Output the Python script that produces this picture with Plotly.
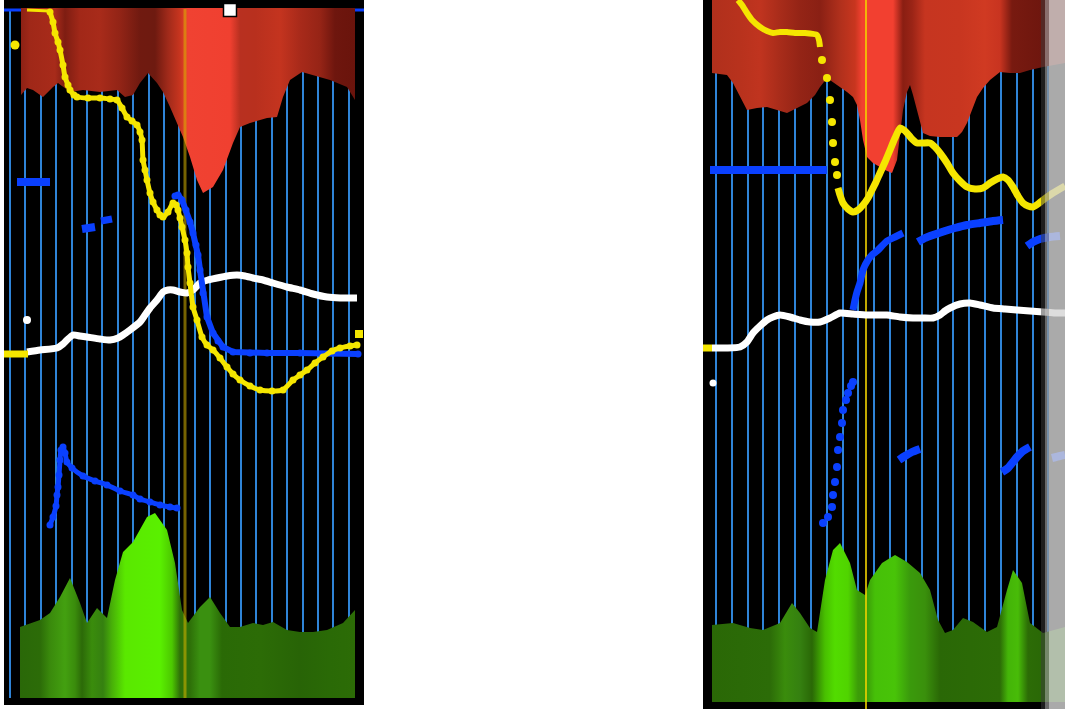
import plotly.graph_objects as go

# ---------------- LEFT PANEL DATA ----------------
red_left_x = [21, 27, 33, 43, 53, 58, 70, 83, 100, 117, 125, 133, 140, 148, 157, 163, 170, 177, 183, 190, 197, 203, 213, 223, 233, 240, 250, 267, 277, 283, 290, 302, 313, 330, 347, 355]
red_left_y = [95, 88, 90, 97, 87, 83, 92, 90, 92, 90, 97, 95, 83, 73, 83, 92, 107, 123, 137, 157, 180, 193, 187, 170, 143, 127, 123, 118, 117, 97, 80, 72, 75, 80, 87, 100]
red_left_top = 8
red_left_stop_x = [20, 30, 55, 65, 80, 100, 120, 140, 155, 168, 180, 188, 230, 240, 255, 280, 300, 320, 335, 355]
red_left_stop_c = ['#8a2014', '#a02818', '#a82b1a', '#7e1d12', '#a22818', '#a82b1a', '#922416', '#701a10', '#6e1a10', '#a02a1a',
                   '#c8351f', '#f04232', '#f04030', '#b83020', '#b8301e', '#c4341f', '#a82a1a', '#962416', '#6e160e', '#6a140c']

green_left_x = [20, 40, 50, 60, 70, 80, 87, 97, 107, 115, 123, 133, 147, 155, 167, 175, 182, 188, 200, 210, 220, 230, 240, 253, 263, 273, 287, 300, 313, 327, 343, 355]
green_left_y = [627, 620, 613, 597, 578, 603, 623, 608, 618, 580, 552, 542, 517, 513, 530, 563, 610, 623, 607, 597, 613, 627, 627, 623, 625, 622, 630, 632, 632, 630, 623, 610]
green_left_bottom = 698
green_left_stop_x = [20, 40, 50, 65, 75, 82, 92, 103, 112, 125, 160, 172, 180, 190, 200, 210, 222, 260, 300, 330, 355]
green_left_stop_c = ['#2a6808', '#2c6c08', '#3a8a0c', '#43a010', '#3a8c0c', '#2c6a08', '#3a8c0c', '#358010', '#48b008', '#5ae800',
                     '#5af000', '#4cc800', '#2f7008', '#2e7008', '#3a9010', '#3a9010', '#2a6a06', '#2c6c06', '#286406', '#2a6a06', '#2c6c06']

yellow_left_top_x = [27, 50]
yellow_left_top_y = [10, 11]
yellow_left_x = [50, 53, 55, 58, 60, 63, 65, 68, 70, 74, 77, 88, 100, 110, 117, 122, 127, 132, 137, 140, 142, 143, 145, 147, 150, 153, 157, 160,
                 163, 168, 173, 176, 178, 180, 182, 185, 187, 188, 190, 193, 197, 202, 207, 213, 220, 227, 233, 240, 250, 260, 272, 283,
                 293, 300, 307, 315, 323, 332, 340, 350, 357]
yellow_left_y = [12, 22, 33, 42, 50, 65, 77, 85, 90, 95, 97, 98, 98, 99, 100, 108, 117, 121, 125, 132, 140, 160, 170, 180, 193, 202, 210, 215,
                 217, 212, 203, 205, 210, 218, 227, 240, 253, 267, 283, 307, 320, 337, 345, 350, 358, 367, 374, 380, 386, 390, 391, 390,
                 380, 375, 370, 363, 357, 351, 348, 346, 345]
yellow_left_stub_x = [4, 28]
yellow_left_stub_y = [354, 354]
yellow_left_dot = (15, 45)
yellow_left_end = (359, 334)

white_left_x = [27, 40, 57, 63, 67, 73, 80, 87, 100, 110, 118, 123, 130, 140, 145, 150, 157, 163, 168, 173, 180, 187, 193, 200, 208, 217, 227,
                237, 245, 253, 263, 273, 287, 300, 313, 327, 340, 357]
white_left_y = [352, 350, 348, 344, 340, 335, 336, 337, 339, 340, 338, 335, 330, 322, 315, 308, 300, 292, 290, 290, 292, 293, 290, 283, 280,
                278, 276, 275, 276, 278, 280, 283, 287, 290, 294, 297, 298, 298]
white_left_dot = (27, 320)

blue_left_top_x = [4, 364]
blue_left_top_y = [10, 10]
blue_left_dash_x = [17, 50]
blue_left_dash_y = [182, 182]
blue_left_dash2_x = [82, 95]
blue_left_dash2_y = [229, 227]
blue_left_dash3_x = [101, 112]
blue_left_dash3_y = [221, 219]
blue_left_fall_x = [175, 178, 182, 186, 190, 193, 196, 198, 200, 203, 207, 213, 218, 223, 233, 250, 267, 300, 333, 358]
blue_left_fall_y = [196, 195, 200, 210, 222, 233, 245, 255, 270, 293, 317, 333, 341, 347, 352, 353, 353, 353, 353, 354]
blue_left_low_x = [50, 53, 56, 57, 58, 59, 60, 61, 63, 65, 67, 72, 83, 95, 107, 120, 133, 140, 150, 160, 170, 177]
blue_left_low_y = [525, 517, 506, 495, 487, 475, 460, 450, 447, 453, 462, 468, 476, 481, 485, 491, 495, 499, 502, 505, 507, 508]

cursor_left_x = 185
marker_left = (230, 10)

# ---------------- RIGHT PANEL DATA ----------------
red_right_x = [712, 720, 727, 733, 740, 747, 757, 767, 777, 787, 797, 807, 815, 820, 827, 833, 840, 847, 853, 857, 860, 863, 867, 873, 880, 885,
               892, 897, 900, 903, 907, 910, 913, 917, 920, 923, 930, 940, 950, 957, 962, 967, 972, 977, 983, 990, 1000, 1010, 1020, 1030,
               1043, 1055, 1065]
red_right_y = [73, 74, 75, 83, 97, 110, 108, 107, 110, 113, 108, 103, 95, 87, 78, 82, 87, 92, 97, 105, 120, 140, 157, 163, 167, 170,
               173, 160, 135, 110, 92, 85, 95, 110, 122, 133, 136, 137, 137, 137, 132, 123, 110, 97, 88, 80, 72, 73, 73, 70,
               67, 65, 63]
red_right_top = 0
red_right_stop_x = [712, 740, 760, 780, 800, 820, 840, 855, 862, 893, 903, 912, 925, 960, 985, 1000, 1012, 1043, 1065]
red_right_stop_c = ['#b0301c', '#b8321d', '#c0341f', '#a82c1a', '#942416', '#8a2014', '#b0301c', '#c8361f', '#f24030', '#f24030',
                    '#8a1e12', '#9a2416', '#c63520', '#c83620', '#d03a22', '#c83420', '#781a10', '#6e160e', '#6e160e']

green_right_x = [712, 733, 750, 763, 780, 792, 800, 810, 817, 825, 833, 840, 850, 857, 865, 870, 882, 895, 907, 920, 930, 938, 945, 953, 963,
                 973, 987, 997, 1007, 1013, 1022, 1030, 1043, 1053, 1065]
green_right_y = [625, 623, 628, 630, 623, 603, 613, 628, 632, 580, 550, 543, 563, 590, 595, 580, 563, 555, 562, 573, 590, 620, 633, 630, 618,
                 622, 632, 627, 590, 570, 583, 623, 633, 630, 627]
green_right_bottom = 702
green_right_stop_x = [712, 770, 785, 800, 812, 825, 835, 848, 858, 866, 875, 895, 910, 925, 940, 1000, 1008, 1018, 1028, 1043, 1065]
green_right_stop_c = ['#2a6806', '#2c6c08', '#3a8c0c', '#358010', '#2a6806', '#48c000', '#52dc00', '#50d400', '#3c9c08', '#3a9a08',
                      '#46c008', '#48c408', '#3a9a0c', '#3a900c', '#2a6806', '#2c6c06', '#44b408', '#48bc08', '#2c6c06', '#2a6806', '#2a6806']

yellow_right_a_x = [738, 742, 747, 752, 760, 767, 773, 780, 787, 795, 805, 817, 819, 820]
yellow_right_a_y = [0, 5, 13, 20, 27, 31, 33, 32, 32, 33, 33, 35, 40, 47]
yellow_right_dots_x = [822, 827, 830, 832, 833, 835, 837]
yellow_right_dots_y = [60, 78, 100, 122, 143, 162, 175]
yellow_right_b_x = [838, 840, 843, 848, 853, 858, 863, 868, 872, 876, 880, 885, 890, 895, 900, 904, 907, 912, 917, 923, 930, 935, 940, 947,
                    953, 960, 967, 975, 983, 990, 997, 1003, 1008, 1013, 1018, 1023, 1028, 1033, 1038, 1043, 1053, 1065]
yellow_right_b_y = [188, 195, 203, 209, 212, 210, 205, 198, 190, 182, 173, 162, 150, 138, 128, 130, 133, 139, 143, 143, 143, 147, 153, 163,
                    173, 181, 187, 189, 188, 183, 179, 177, 180, 187, 196, 203, 206, 207, 204, 200, 193, 186]
yellow_right_stub_x = [703, 712]
yellow_right_stub_y = [348, 348]

white_right_x = [712, 727, 740, 747, 753, 760, 767, 773, 780, 790, 800, 810, 820, 830, 840, 853, 867, 877, 887, 900, 913, 923, 933, 940, 945,
                 950, 960, 970, 980, 993, 1005, 1017, 1030, 1043, 1055, 1065]
white_right_y = [348, 348, 347, 342, 333, 326, 320, 317, 315, 317, 320, 322, 322, 318, 313, 314, 315, 315, 315, 317, 318, 318, 318, 315, 311,
                 308, 304, 303, 305, 308, 309, 310, 311, 312, 313, 313]
white_right_dot = (713, 383)

blue_right_h_x = [710, 827]
blue_right_h_y = [170, 170]
blue_right_rise_x = [853, 855, 857, 860, 863, 868, 872, 877, 887, 895, 903]
blue_right_rise_y = [310, 300, 292, 283, 270, 260, 255, 251, 241, 237, 233]
blue_right_seg2_x = [918, 925, 933, 945, 955, 967, 980, 993, 1003]
blue_right_seg2_y = [242, 238, 235, 231, 228, 225, 223, 221, 220]
blue_right_seg3_x = [1027, 1033, 1040, 1050, 1060]
blue_right_seg3_y = [246, 242, 239, 237, 236]
blue_right_dots_x = [823, 828, 832, 833, 835, 837, 838, 840, 842, 843, 846, 848, 851, 853]
blue_right_dots_y = [523, 517, 507, 495, 482, 467, 450, 437, 423, 410, 400, 393, 386, 382]
blue_right_s1_x = [899, 905, 912, 920]
blue_right_s1_y = [460, 456, 452, 449]
blue_right_s2_x = [1002, 1008, 1013, 1017, 1023, 1030]
blue_right_s2_y = [472, 468, 462, 457, 451, 447]
blue_right_s3_x = [1052, 1060, 1065]
blue_right_s3_y = [458, 456, 455]

cursor_right_x = 866

YELLOW = '#f5e600'
BLUE = '#0a40ff'
WHITE = '#ffffff'
GRID = '#2f84d8'


def scale(stops_x, stops_c):
    lo, hi = stops_x[0], stops_x[-1]
    return [[(x - lo) / (hi - lo), c] for x, c in zip(stops_x, stops_c)]


fig = go.Figure()


def add_fill(xs, ys, base, sx, sc, xa, ya):
    px = list(xs) + [xs[-1], xs[0]]
    py = list(ys) + [base, base]
    fig.add_trace(go.Scatter(x=px, y=py, mode='lines', fill='toself', line=dict(width=0),
                             fillgradient=dict(type='horizontal', colorscale=scale(sx, sc), start=sx[0], stop=sx[-1]),
                             xaxis=xa, yaxis=ya, hoverinfo='skip'))


def add_line(xs, ys, color, width, xa, ya, markers=False, msize=7, shape='spline'):
    fig.add_trace(go.Scatter(x=xs, y=ys, mode='lines+markers' if markers else 'lines',
                             line=dict(color=color, width=width, shape=shape, smoothing=0.5),
                             marker=dict(color=color, size=msize),
                             xaxis=xa, yaxis=ya, hoverinfo='skip'))


def add_dots(xs, ys, color, size, xa, ya, symbol='circle'):
    fig.add_trace(go.Scatter(x=xs, y=ys, mode='markers', marker=dict(color=color, size=size, symbol=symbol),
                             xaxis=xa, yaxis=ya, hoverinfo='skip'))


# ----- left panel -----
add_line(blue_left_top_x, blue_left_top_y, BLUE, 3, 'x', 'y', shape='linear')
add_fill(red_left_x, red_left_y, red_left_top, red_left_stop_x, red_left_stop_c, 'x', 'y')
add_fill(green_left_x, green_left_y, green_left_bottom, green_left_stop_x, green_left_stop_c, 'x', 'y')
fig.add_trace(go.Scatter(x=[cursor_left_x, cursor_left_x], y=[9, 698], mode='lines',
                         line=dict(color='rgba(215,178,0,0.55)', width=3), xaxis='x', yaxis='y', hoverinfo='skip'))
add_line(white_left_x, white_left_y, WHITE, 7, 'x', 'y')
add_dots([white_left_dot[0]], [white_left_dot[1]], WHITE, 8, 'x', 'y')
add_line(blue_left_dash_x, blue_left_dash_y, BLUE, 8, 'x', 'y', shape='linear')
add_line(blue_left_dash2_x, blue_left_dash2_y, BLUE, 8, 'x', 'y', shape='linear')
add_line(blue_left_dash3_x, blue_left_dash3_y, BLUE, 7, 'x', 'y', shape='linear')
add_line(blue_left_fall_x, blue_left_fall_y, BLUE, 6, 'x', 'y', markers=True, msize=7, shape='linear')
add_line(blue_left_low_x, blue_left_low_y, BLUE, 5, 'x', 'y', markers=True, msize=7)
add_line(yellow_left_top_x, yellow_left_top_y, YELLOW, 3, 'x', 'y', shape='linear')
add_line(yellow_left_x, yellow_left_y, YELLOW, 5, 'x', 'y', markers=True, msize=7)
add_line(yellow_left_stub_x, yellow_left_stub_y, YELLOW, 7, 'x', 'y', shape='linear')
add_dots([yellow_left_dot[0]], [yellow_left_dot[1]], YELLOW, 9, 'x', 'y')
add_dots([yellow_left_end[0]], [yellow_left_end[1]], YELLOW, 8, 'x', 'y', symbol='square')
fig.add_trace(go.Scatter(x=[marker_left[0]], y=[marker_left[1]], mode='markers',
                         marker=dict(symbol='square', size=13, color='white', line=dict(color='black', width=1.5)),
                         xaxis='x', yaxis='y', hoverinfo='skip'))

# ----- right panel -----
add_fill(red_right_x, red_right_y, red_right_top, red_right_stop_x, red_right_stop_c, 'x2', 'y2')
add_fill(green_right_x, green_right_y, green_right_bottom, green_right_stop_x, green_right_stop_c, 'x2', 'y2')
fig.add_trace(go.Scatter(x=[cursor_right_x, cursor_right_x], y=[0, 709], mode='lines',
                         line=dict(color='#f2d200', width=1.6), xaxis='x2', yaxis='y2', hoverinfo='skip'))
add_line(white_right_x, white_right_y, WHITE, 7, 'x2', 'y2')
add_dots([white_right_dot[0]], [white_right_dot[1]], WHITE, 7, 'x2', 'y2')
add_line(blue_right_h_x, blue_right_h_y, BLUE, 8, 'x2', 'y2', shape='linear')
add_line(blue_right_rise_x, blue_right_rise_y, BLUE, 7, 'x2', 'y2')
add_line(blue_right_seg2_x, blue_right_seg2_y, BLUE, 8, 'x2', 'y2')
add_line(blue_right_seg3_x, blue_right_seg3_y, BLUE, 8, 'x2', 'y2')
add_dots(blue_right_dots_x, blue_right_dots_y, BLUE, 8, 'x2', 'y2')
add_line(blue_right_s1_x, blue_right_s1_y, BLUE, 8, 'x2', 'y2')
add_line(blue_right_s2_x, blue_right_s2_y, BLUE, 8, 'x2', 'y2')
add_line(blue_right_s3_x, blue_right_s3_y, BLUE, 8, 'x2', 'y2')
add_line(yellow_right_a_x, yellow_right_a_y, YELLOW, 6, 'x2', 'y2')
add_dots(yellow_right_dots_x, yellow_right_dots_y, YELLOW, 8, 'x2', 'y2')
add_line(yellow_right_b_x, yellow_right_b_y, YELLOW, 7, 'x2', 'y2')
add_line(yellow_right_stub_x, yellow_right_stub_y, YELLOW, 7, 'x2', 'y2', shape='linear')

W, H = 1065, 709
axis_common = dict(showticklabels=False, ticks='', zeroline=False, showline=False, fixedrange=True)
fig.update_layout(
    width=W, height=H, margin=dict(l=0, r=0, t=0, b=0, pad=0),
    paper_bgcolor='white', plot_bgcolor='black', showlegend=False,
    xaxis=dict(domain=[4 / W, 364 / W], range=[4, 364], anchor='y', showgrid=True, gridcolor=GRID, gridwidth=2,
               tickmode='linear', tick0=10, dtick=15.4, **axis_common),
    yaxis=dict(domain=[4 / H, 1], range=[705, 0], anchor='x', showgrid=False, **axis_common),
    xaxis2=dict(domain=[703 / W, 1], range=[703, 1065], anchor='y2', showgrid=True, gridcolor=GRID, gridwidth=2,
                tickmode='linear', tick0=716, dtick=15.83, **axis_common),
    yaxis2=dict(domain=[0, 1], range=[709, 0], anchor='x2', showgrid=False, **axis_common),
    shapes=[
        dict(type='rect', xref='x', yref='y', x0=4, x1=364, y0=0, y1=9, fillcolor='black', line_width=0, layer='between'),
        dict(type='rect', xref='x', yref='y', x0=4, x1=364, y0=698, y1=705, fillcolor='black', line_width=0, layer='between'),
        dict(type='rect', xref='x2', yref='y2', x0=703, x1=1065, y0=702, y1=709, fillcolor='black', line_width=0, layer='between'),
        dict(type='rect', xref='x2', yref='y2', x0=1041, x1=1045, y0=0, y1=709, fillcolor='rgba(60,60,60,0.5)', line_width=0, layer='above'),
        dict(type='rect', xref='x2', yref='y2', x0=1045, x1=1049, y0=0, y1=709, fillcolor='rgba(150,150,150,0.7)', line_width=0, layer='above'),
        dict(type='rect', xref='x2', yref='y2', x0=1049, x1=1065, y0=0, y1=709, fillcolor='rgba(212,212,212,0.8)', line_width=0, layer='above'),
    ],
)

fig.write_html('out.html', config={'displayModeBar': False, 'staticPlot': True},
               post_script="document.body.style.margin='0';document.body.style.overflow='hidden';")
